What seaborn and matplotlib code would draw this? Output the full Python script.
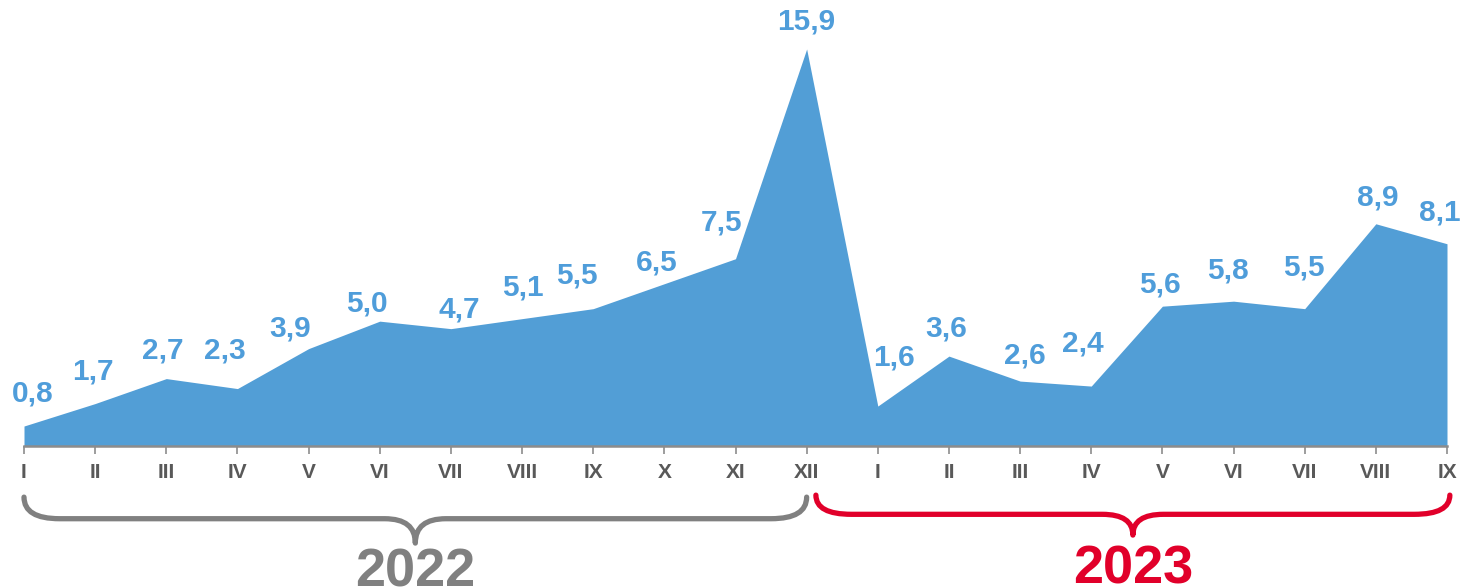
import numpy as np
import pandas as pd
import seaborn as sns
import matplotlib.pyplot as plt
from matplotlib.path import Path
from matplotlib.patches import PathPatch
from matplotlib.transforms import blended_transform_factory

# data
months_2022 = ["I", "II", "III", "IV", "V", "VI", "VII", "VIII", "IX", "X", "XI", "XII"]
months_2023 = ["I", "II", "III", "IV", "V", "VI", "VII", "VIII", "IX"]
values_2022 = [0.8, 1.7, 2.7, 2.3, 3.9, 5.0, 4.7, 5.1, 5.5, 6.5, 7.5, 15.9]
values_2023 = [1.6, 3.6, 2.6, 2.4, 5.6, 5.8, 5.5, 8.9, 8.1]
years = ["2022", "2023"]

# label nudges in pixels (dx, dy) relative to each point, as in the original layout
label_nudge = [(9, 33), (-2, 32), (-3, 28), (-13, 38), (-19, 20), (-13, 18), (8, 19),
               (1, 31), (-16, 33), (-8, 21), (-14, 36), (0, 27),
               (16, 49), (-3, 28), (5, 26), (-8, 43), (-2, 22), (-6, 31),
               (-1, 41), (2, 26), (-7, 31)]

df = pd.DataFrame({
    "month": months_2022 + months_2023,
    "value": values_2022 + values_2023,
})
df["pos"] = np.arange(len(df))

sns.set_theme(style="white")
plt.rcParams["font.family"] = ["Liberation Sans", "DejaVu Sans"]

BLUE = "#529ED6"
LABEL_BLUE = "#4F9DDA"
GREY = "#808080"
RED = "#E1002A"

fig = plt.figure(figsize=(14.68, 5.88), dpi=100)
ax = fig.add_axes([24 / 1468, (588 - 446) / 588, 1423 / 1468, 399.5 / 588])

sns.lineplot(data=df, x="pos", y="value", ax=ax, color=BLUE, linewidth=0)
ax.fill_between(df["pos"], df["value"], 0, color=BLUE, linewidth=0)

ax.set_xlim(0, len(df) - 1)
ax.set_ylim(0, 16)
ax.set_xticks(df["pos"])
ax.set_xticklabels(df["month"], fontsize=15, fontweight="bold", color="#595959")
ax.set_yticks([])
ax.set_xlabel("")
ax.set_ylabel("")
for s in ["top", "right", "left"]:
    ax.spines[s].set_visible(False)
ax.spines["bottom"].set_color("#8C8C8C")
ax.spines["bottom"].set_linewidth(1.8)
ax.tick_params(axis="x", length=6, width=1.2, color="#8C8C8C", pad=6, bottom=True)

for (pos, val), (dx, dy) in zip(zip(df["pos"], df["value"]), label_nudge):
    ax.annotate(f"{val:.1f}".replace(".", ","), (pos, val),
                xytext=(dx, dy), textcoords="offset pixels",
                ha="center", va="center", fontsize=21.5, fontweight="bold",
                color=LABEL_BLUE, annotation_clip=False)

# braces under the axis
trans = blended_transform_factory(ax.transData, ax.transAxes)


def brace(x0, x1, y_top, y_mid, y_tip, color):
    xc = (x0 + x1) / 2
    r = 0.5
    r2 = 0.43
    verts = [(x0, y_top), (x0, y_mid), (x0 + r, y_mid),
             (xc - r2, y_mid), (xc, y_mid), (xc, y_tip),
             (xc, y_mid), (xc + r2, y_mid),
             (x1 - r, y_mid), (x1, y_mid), (x1, y_top)]
    codes = [Path.MOVETO, Path.CURVE3, Path.CURVE3,
             Path.LINETO, Path.CURVE3, Path.CURVE3,
             Path.CURVE3, Path.CURVE3,
             Path.LINETO, Path.CURVE3, Path.CURVE3]
    patch = PathPatch(Path(verts, codes), fill=False, edgecolor=color,
                      linewidth=3.8, transform=trans, clip_on=False,
                      capstyle="round", joinstyle="round")
    ax.add_patch(patch)
    return xc


n22 = len(values_2022)
xc1 = brace(0, n22 - 1, -0.128, -0.182, -0.243, GREY)
xc2 = brace(n22 - 1 + 0.13, len(df) - 1 + 0.04, -0.123, -0.171, -0.223, RED)

ax.text(xc1, -0.352, years[0], transform=trans, ha="center", va="baseline",
        fontsize=39, fontweight="bold", color=GREY, clip_on=False)
ax.text(xc2, -0.345, years[1], transform=trans, ha="center", va="baseline",
        fontsize=39, fontweight="bold", color=RED, clip_on=False)

fig.savefig("out.png", dpi=100)
